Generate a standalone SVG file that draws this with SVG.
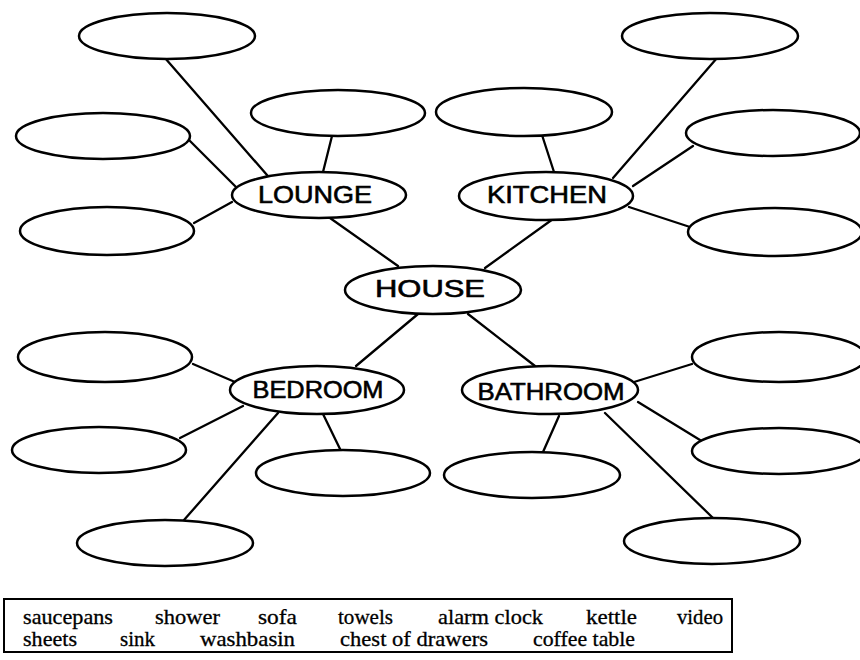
<svg xmlns="http://www.w3.org/2000/svg" width="860" height="660" viewBox="0 0 860 660">
<style>
.e{fill:#fff;stroke:#000;stroke-width:2.5}
.c line{stroke:#000;stroke-width:2.3;stroke-linecap:round}
.lab{font-family:"Liberation Sans","DejaVu Sans",sans-serif;font-size:24px;text-anchor:middle;fill:#000;stroke:#000;stroke-width:0.6}
.w{font-family:"Liberation Serif","DejaVu Serif",serif;font-size:21px;fill:#000;stroke:#000;stroke-width:0.3}
</style>
<rect width="860" height="660" fill="#fff"/>
<g id="connectors" class="c">
<line x1="165" y1="58" x2="267" y2="175"/>
<line x1="332" y1="136" x2="323" y2="172"/>
<line x1="188" y1="139" x2="236" y2="187"/>
<line x1="194" y1="223" x2="232" y2="202"/>
<line x1="330" y1="218" x2="398" y2="266"/>
<line x1="717" y1="58" x2="613" y2="178"/>
<line x1="542" y1="135" x2="554" y2="172"/>
<line x1="693" y1="146" x2="633" y2="186"/>
<line x1="690" y1="227" x2="629" y2="207"/>
<line x1="553" y1="219" x2="485" y2="268"/>
<line x1="418" y1="314" x2="356" y2="366"/>
<line x1="193" y1="364" x2="235" y2="382"/>
<line x1="180" y1="438" x2="243" y2="406"/>
<line x1="184" y1="520" x2="278" y2="413"/>
<line x1="323" y1="414" x2="341" y2="451"/>
<line x1="468" y1="314" x2="535" y2="366"/>
<line x1="634" y1="382" x2="692" y2="364"/>
<line x1="638" y1="402" x2="700" y2="440"/>
<line x1="605" y1="413" x2="713" y2="518"/>
<line x1="559" y1="416" x2="543" y2="452"/>
</g>
<g id="lounge-1"><ellipse class="e" cx="167" cy="36" rx="88" ry="23"/></g>
<g id="lounge-2"><ellipse class="e" cx="338" cy="113" rx="87" ry="23"/></g>
<g id="lounge-3"><ellipse class="e" cx="103" cy="136" rx="87" ry="23"/></g>
<g id="lounge-4"><ellipse class="e" cx="107" cy="231" rx="87" ry="24"/></g>
<g id="lounge"><ellipse class="e" cx="319" cy="195" rx="87" ry="23"/><text class="lab" x="315" y="203" textLength="114" lengthAdjust="spacingAndGlyphs">LOUNGE</text></g>
<g id="kitchen-1"><ellipse class="e" cx="710" cy="36" rx="88" ry="23"/></g>
<g id="kitchen-2"><ellipse class="e" cx="524" cy="112" rx="88" ry="24"/></g>
<g id="kitchen-3"><ellipse class="e" cx="773" cy="133" rx="87" ry="23"/></g>
<g id="kitchen-4"><ellipse class="e" cx="775" cy="232" rx="87" ry="24"/></g>
<g id="kitchen"><ellipse class="e" cx="546" cy="196" rx="87" ry="24"/><text class="lab" x="547" y="203" textLength="120" lengthAdjust="spacingAndGlyphs">KITCHEN</text></g>
<g id="house"><ellipse class="e" cx="433" cy="290" rx="88" ry="24"/><text class="lab" x="430" y="297" textLength="110" lengthAdjust="spacingAndGlyphs">HOUSE</text></g>
<g id="bedroom-1"><ellipse class="e" cx="105" cy="357" rx="87" ry="25"/></g>
<g id="bedroom-2"><ellipse class="e" cx="99" cy="450" rx="87" ry="23"/></g>
<g id="bedroom-3"><ellipse class="e" cx="165" cy="543" rx="88" ry="23"/></g>
<g id="bedroom-4"><ellipse class="e" cx="343" cy="473" rx="87" ry="23"/></g>
<g id="bedroom"><ellipse class="e" cx="317" cy="390" rx="87" ry="24"/><text class="lab" x="318" y="398" textLength="131" lengthAdjust="spacingAndGlyphs">BEDROOM</text></g>
<g id="bathroom-1"><ellipse class="e" cx="779" cy="357" rx="87" ry="25"/></g>
<g id="bathroom-2"><ellipse class="e" cx="779" cy="451" rx="87" ry="23"/></g>
<g id="bathroom-3"><ellipse class="e" cx="532" cy="475" rx="88" ry="23"/></g>
<g id="bathroom-4"><ellipse class="e" cx="712" cy="541" rx="88" ry="23"/></g>
<g id="bathroom"><ellipse class="e" cx="550" cy="390" rx="88" ry="24"/><text class="lab" x="551" y="400" textLength="147" lengthAdjust="spacingAndGlyphs">BATHROOM</text></g>
<g id="word-box">
<rect x="4" y="599" width="728" height="53" fill="none" stroke="#000" stroke-width="2"/>
<text class="w" x="23" y="624" textLength="90" lengthAdjust="spacingAndGlyphs">saucepans</text>
<text class="w" x="155" y="624" textLength="65" lengthAdjust="spacingAndGlyphs">shower</text>
<text class="w" x="258" y="624" textLength="39" lengthAdjust="spacingAndGlyphs">sofa</text>
<text class="w" x="338" y="624" textLength="55" lengthAdjust="spacingAndGlyphs">towels</text>
<text class="w" x="438" y="624" textLength="105" lengthAdjust="spacingAndGlyphs">alarm clock</text>
<text class="w" x="586" y="624" textLength="51" lengthAdjust="spacingAndGlyphs">kettle</text>
<text class="w" x="677" y="624" textLength="46" lengthAdjust="spacingAndGlyphs">video</text>
<text class="w" x="23" y="646" textLength="54" lengthAdjust="spacingAndGlyphs">sheets</text>
<text class="w" x="120" y="646" textLength="35" lengthAdjust="spacingAndGlyphs">sink</text>
<text class="w" x="200" y="646" textLength="95" lengthAdjust="spacingAndGlyphs">washbasin</text>
<text class="w" x="340" y="646" textLength="148" lengthAdjust="spacingAndGlyphs">chest of drawers</text>
<text class="w" x="533" y="646" textLength="102" lengthAdjust="spacingAndGlyphs">coffee table</text>
</g>
</svg>
